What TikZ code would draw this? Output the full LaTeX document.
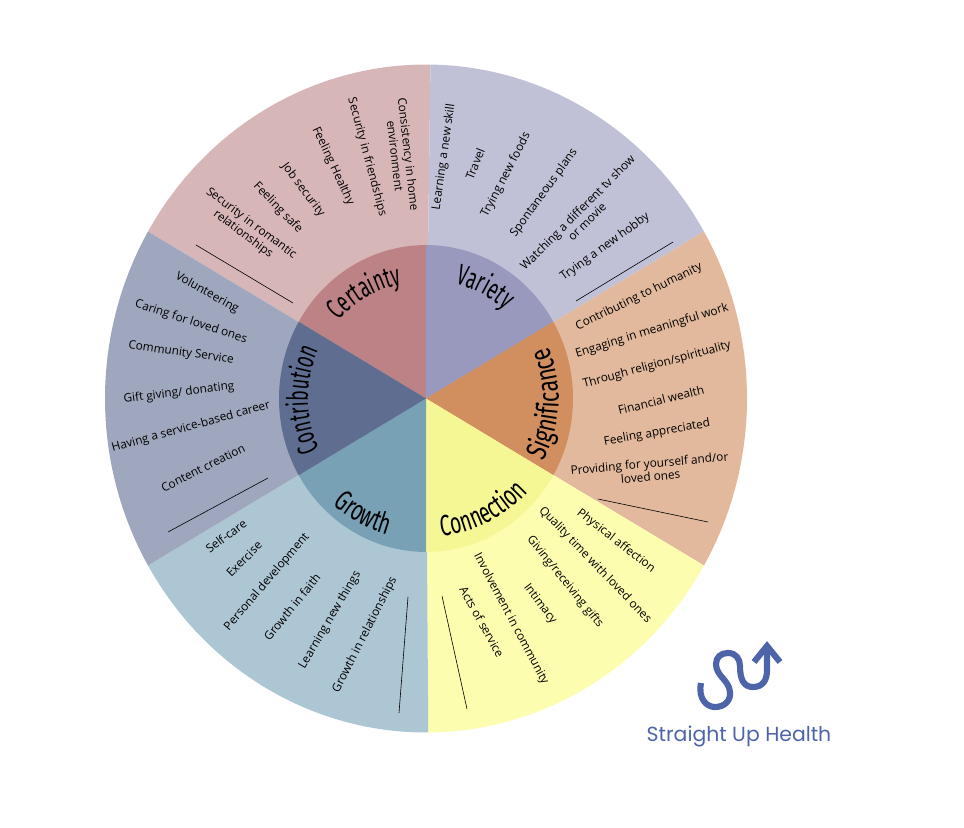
\documentclass[tikz,border=0pt]{standalone}
\usepackage{fontspec}
\setmainfont{Open Sans}
\newfontfamily\titlefont[FakeStretch=0.61]{Fira Sans}
\newfontfamily\titlewider[FakeStretch=0.66]{Fira Sans}
\newfontfamily\titlewidest[FakeStretch=0.74]{Fira Sans}
\newfontfamily\logofont{Poppins}
\usetikzlibrary{decorations.text}
\definecolor{logoblue}{HTML}{4D64A8}
\tikzstyle{item} = [align=center, inner sep=0pt, font=\fontsize{8.85}{10}\selectfont]
\tikzstyle{rule} = [black, line width=0.45pt]
\tikzset{wheeltitle/.style 2 args={decorate, decoration={text along path, text align=center, text={|\fontsize{22}{22}\selectfont#1|#2}}}}

\begin{document}
\begin{tikzpicture}[x=0.75pt, y=-0.75pt]
  \useasboundingbox (0,0) rectangle (964,828);
  \coordinate (hub) at (426,398.5);
  \foreach \ang/\stop/\outer in {89.2/150/D7B6B8, 30/89.2/C0C1D7, -30/30/E2B99C, -89.6/-30/FDFDB0, -150/-89.6/ADC6D4, 150/210/9EA7BD} {
    \definecolor{outercol}{HTML}{\outer}
    \fill[outercol] (hub) -- ++(\ang:240.75pt and 250.5pt) arc[start angle=\ang, end angle=\stop, x radius=240.75pt, y radius=250.5pt] -- cycle;
  }
  \foreach \ang/\inner in {90/BC8285, 30/9999BE, -30/D18F60, -90/F5F795, -150/78A1B6, 150/5E6D90} {
    \definecolor{innercol}{HTML}{\inner}
    \fill[innercol] (hub) -- ++(\ang:110.25pt and 115.1pt) arc[start angle=\ang, delta angle=60, x radius=110.25pt, y radius=115.1pt] -- cycle;
  }

  \path[wheeltitle={\titlefont}{Certainty}] ([shift={(170:87.75pt)}]hub) arc[start angle=170, end angle=70, radius=87.75pt];
  \path[wheeltitle={\titlefont}{Variety}] ([shift={(112:89pt)}]hub) arc[start angle=112, end angle=12, radius=89pt];
  \path[wheeltitle={\titlewidest}{Significance}] ([shift={(-70:99.5pt)}]hub) arc[start angle=-70, end angle=65, radius=99.5pt];
  \path[wheeltitle={\titlewider}{Connection}] ([shift={(-120:104pt)}]hub) arc[start angle=-120, end angle=-6, radius=104pt];
  \path[wheeltitle={\titlewider}{Growth}] ([shift={(-168:106pt)}]hub) arc[start angle=-168, end angle=-69, radius=106pt];
  \path[wheeltitle={\titlefont}{Contribution}] ([shift={(240:88.5pt)}]hub) arc[start angle=240, end angle=121, radius=88.5pt];

  \node[item, rotate=-83.5] (cert1) at (402,155) {Consistency in home\\environment};
  \node[item, rotate=-75] (cert2) at (367,157) {Security in friendships};
  \node[item, rotate=-65] (cert3) at (333,166) {Feeling Healthy};
  \node[item, rotate=-53] (cert4) at (303,190) {Job security};
  \node[item, rotate=-46] (cert5) at (278,208) {Feeling safe};
  \node[item, rotate=-37] (cert6) at (247,229) {Security in romantic\\relationships};
  \draw[rule] (196,245) -- (293,303);

  \node[item, rotate=82] (var1) at (444,157) {Learning a new skill};
  \node[item, rotate=68] (var2) at (475,164) {Travel};
  \node[item, rotate=62.5] (var3) at (506,175) {Trying new foods};
  \node[item, rotate=54] (var4) at (544,193) {Spontaneous plans};
  \node[item, rotate=45] (var5) at (582,217) {Watching a different tv show\\or movie};
  \node[item, rotate=36] (var6) at (605,247) {Trying a new hobby};
  \draw[rule] (576,301) -- (673,242);

  \node[item, rotate=26] (sig1) at (639,297) {Contributing to humanity};
  \node[item, rotate=17] (sig2) at (652,331) {Engaging in meaningful work};
  \node[item, rotate=15] (sig3) at (657,365) {Through religion/spirituality};
  \node[item, rotate=14] (sig4) at (661,400) {Financial wealth};
  \node[item, rotate=10] (sig5) at (657,433) {Feeling appreciated};
  \node[item, rotate=5] (sig6) at (650,470) {Providing for yourself and/or\\loved ones};
  \draw[rule] (598,499) -- (708,522);

  \node[item, rotate=-38] (con1) at (616,541) {Physical affection};
  \node[item, rotate=-46] (con2) at (595,565) {Quality time with loved ones};
  \node[item, rotate=-51] (con3) at (565,582) {Giving/receiving gifts};
  \node[item, rotate=-53] (con4) at (540,604) {Intimacy};
  \node[item, rotate=-62] (con5) at (511,619) {Involvement in community};
  \node[item, rotate=-61] (con6) at (482,622) {Acts of service};
  \draw[rule] (442,596) -- (467,709);

  \node[item, rotate=37] (gro1) at (226,536) {Self-care};
  \node[item, rotate=45] (gro2) at (244,559) {Exercise};
  \node[item, rotate=49.5] (gro3) at (267,582) {Personal development};
  \node[item, rotate=51] (gro4) at (292,607) {Growth in faith};
  \node[item, rotate=59.6] (gro5) at (330,620) {Learning new things};
  \node[item, rotate=63] (gro6) at (365,635) {Growth in relationships};
  \draw[rule] (408,597) -- (399,713);

  \node[item, rotate=-29] (cont1) at (207,293) {Volunteering};
  \node[item, rotate=-18] (cont2) at (191,322) {Caring for loved ones};
  \node[item, rotate=-8] (cont3) at (181,353) {Community Service};
  \node[item, rotate=7] (cont4) at (179,393) {Gift giving/ donating};
  \node[item, rotate=15.6] (cont5) at (191,427) {Having a service-based career};
  \node[item, rotate=26.6] (cont6) at (203,468) {Content creation};
  \draw[rule] (168,532) -- (268,478);

  \draw[logoblue, line width=4.6pt] (701,683) .. controls (698,698) and (706,707) .. (715,707) .. controls (725,707) and (731,700) .. (730,692) .. controls (729,680) and (716,676) .. (716,664) .. controls (716,657) and (721,653) .. (728,653) .. controls (736,653) and (740,659) .. (740,666) .. controls (740,680) and (744,687) .. (753,687) .. controls (763,687) and (767,680) .. (767,670) -- (767,647);
  \draw[logoblue, line width=4.6pt] (754,662) -- (767,646) -- (780,662);
  \node[text=logoblue, inner sep=0pt, font=\logofont\fontsize{15.3}{17}\selectfont] (logo) at (739,736) {Straight Up Health};
\end{tikzpicture}
\end{document}
